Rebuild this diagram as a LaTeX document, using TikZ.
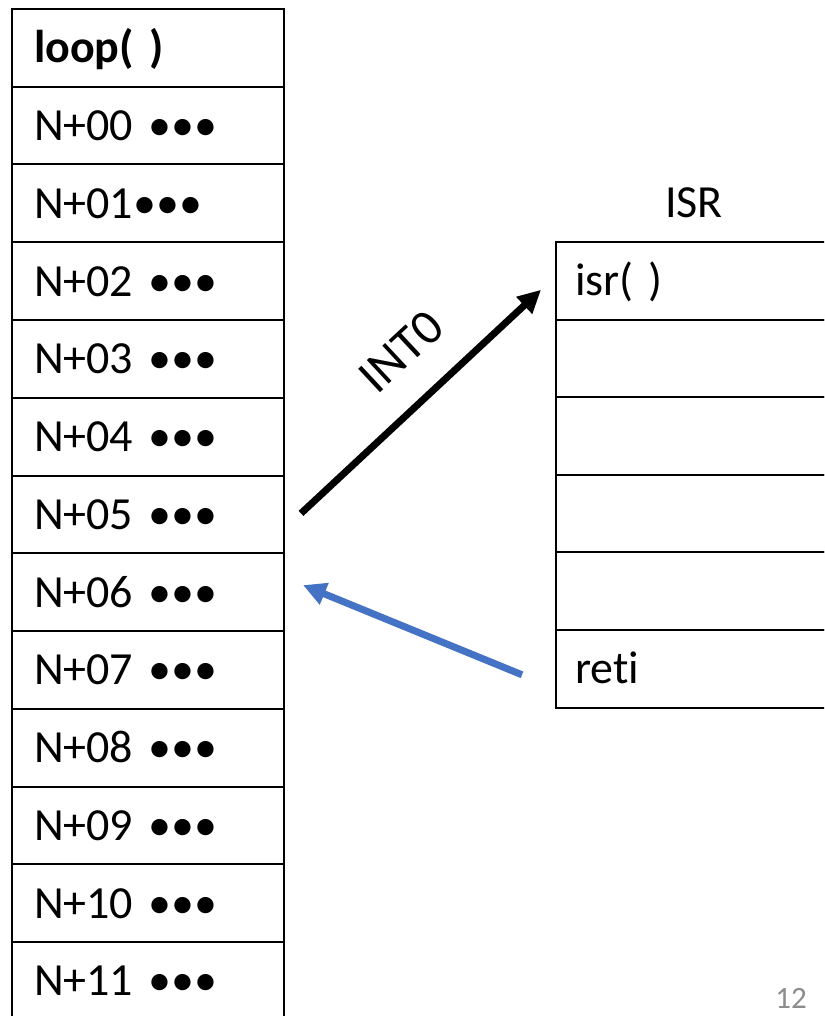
\documentclass[tikz,border=0pt]{standalone}
\usepackage{fontspec}
\setmainfont{Carlito}[Ligatures=NoCommon]
\usepackage{tikz}
\usetikzlibrary{calc}
\usetikzlibrary{arrows.meta}
\tikzset{>={Triangle[length=23pt,width=22pt]}}
\definecolor{retblue}{HTML}{4472C4}
\definecolor{pagegray}{HTML}{8C8C8C}

\begin{document}
\begin{tikzpicture}[x=1pt,y=-1pt,font=\fontsize{46}{55}\selectfont,
	cell/.style={draw,line width=2pt,minimum height=77.75pt,text width=228pt,inner xsep=22pt,inner ysep=0pt,text height=30pt,text depth=0pt,align=left},
	isrcell/.style={cell,minimum height=77.6pt,text width=238pt,inner xsep=19pt}]
	\path[use as bounding box,clip] (0,0) rectangle (824,1016);
	% main program
	\node[cell,font=\fontsize{46}{55}\selectfont\bfseries] (loop) at (148,47.875) {loop( )};
	\foreach \i/\t in {0/{N+00 •••},1/{N+01•••},2/{N+02 •••},3/{N+03 •••},4/{N+04 •••},5/{N+05 •••},
		6/{N+06 •••},7/{N+07 •••},8/{N+08 •••},9/{N+09 •••},10/{N+10 •••},11/{N+11 •••}}
		\node[cell] (n\i) at (148,{47.875+77.75*(\i+1)}) {\t};
	% interrupt routine
	\node (isrtitle) at (694,203) {ISR};
	\foreach \i/\t in {0/{isr( )},1/{},2/{},3/{},4/{},5/{reti}}
		\node[isrcell] (s\i) at (694,{280.8+77.6*\i}) {\t};
	\draw[->,line width=7pt] ($(n5.east)+(16,-1)$) -- node[sloped,above=27pt,pos=0.56,font=\fontsize{50}{60}\selectfont] {INT0} ($(s0.west)+(-14,9)$);
	\draw[->,line width=7pt,retblue] ($(s5.west)+(-33,6)$) -- ($(n6.east)+(18,-7)$);
	\node[pagegray,font=\fontsize{31}{37}\selectfont] (page) at (791,998) {12};
\end{tikzpicture}
\end{document}
